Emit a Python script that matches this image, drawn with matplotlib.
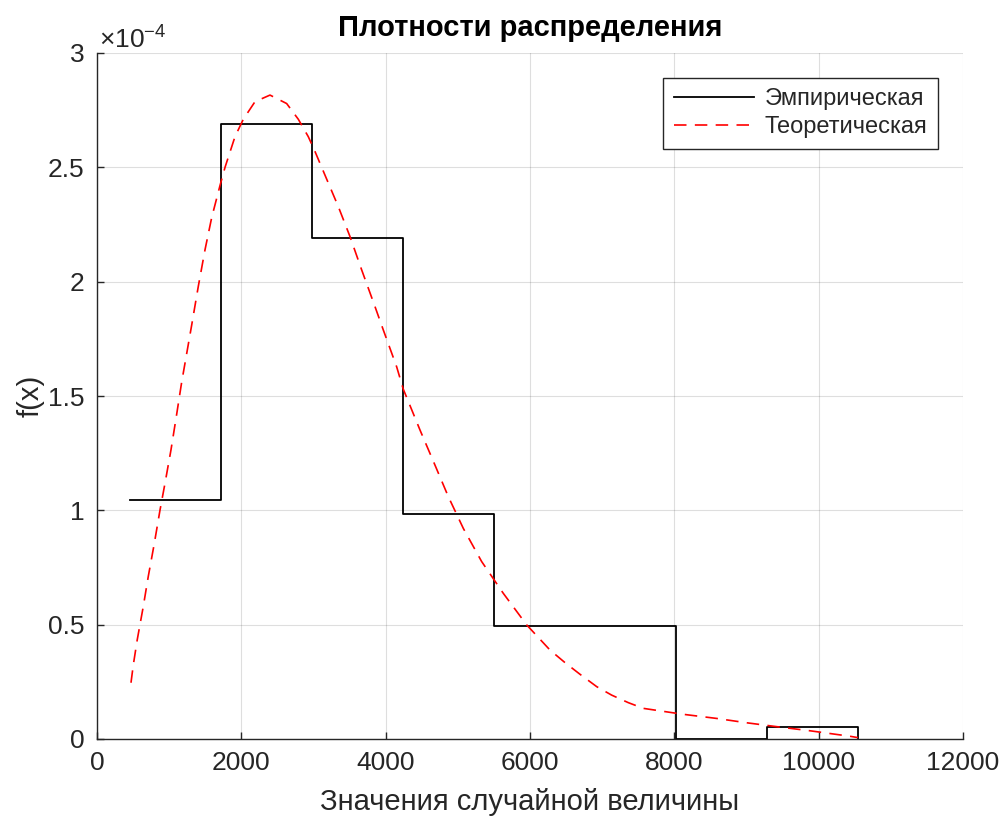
import matplotlib
matplotlib.use("Agg")
from matplotlib import pyplot as plt
import numpy as np

plt.rcParams['font.family'] = ['Liberation Sans', 'DejaVu Sans']
plt.rcParams['mathtext.fontset'] = 'custom'
plt.rcParams['mathtext.rm'] = 'Liberation Sans'
plt.rcParams['lines.scale_dashes'] = False

# histogram edges and heights (heights in units of 1e-4)
bin_edges = [457, 1718, 2979, 4240, 5501, 6762, 8023, 9284, 10545]
emp_heights = [1.045, 2.69, 2.19, 0.983, 0.493, 0.493, 0.0, 0.052]

# theoretical density (x, f(x) in 1e-4)
theo_x = [471, 503, 557, 641, 710, 794, 873, 942, 1025, 1104, 1173, 1312, 1404,
          1497, 1589, 1704, 1774, 1912, 2027, 2189, 2397, 2628, 2790, 2928, 3021,
          3159, 3344, 3506, 3668, 3852, 3967, 4152, 4244, 4476, 4683, 4868, 5076,
          5330, 5630, 5954, 6277, 6485, 6693, 6924, 7131, 7362, 7570, 7824, 8123,
          8585, 9001, 9417, 9879, 10433, 10545]
theo_y = [0.246, 0.324, 0.433, 0.579, 0.710, 0.855, 1.001, 1.118, 1.264, 1.42, 1.56,
          1.81, 1.98, 2.14, 2.28, 2.42, 2.50, 2.634, 2.71, 2.787, 2.816, 2.779, 2.71,
          2.634, 2.569, 2.466, 2.328, 2.197, 2.051, 1.891, 1.789, 1.628, 1.53, 1.351,
          1.198, 1.060, 0.921, 0.776, 0.637, 0.499, 0.389, 0.334, 0.283, 0.229,
          0.192, 0.159, 0.134, 0.122, 0.108, 0.090, 0.071, 0.054, 0.036, 0.012, 0.006]

xticks = [0, 2000, 4000, 6000, 8000, 10000, 12000]
yticks = [0, 0.5, 1, 1.5, 2, 2.5, 3]
ytick_labels = ['0', '0.5', '1', '1.5', '2', '2.5', '3']

txt_color = '#262626'

fig = plt.figure(figsize=(10.05, 8.16), dpi=100)
ax = fig.add_axes([97/1005, 77/816, 866/1005, 686/816])

ax.step(bin_edges, emp_heights + [0.0], where='post', color='black', lw=1.3,
        label='Эмпирическая')
ax.plot(theo_x, theo_y, color='red', lw=1.2, dashes=(9, 6), label='Теоретическая')

ax.set_xlim(0, 12000)
ax.set_ylim(0, 3)
ax.set_xticks(xticks)
ax.set_yticks(yticks)
ax.set_yticklabels(ytick_labels)
ax.grid(True, color='#262626', alpha=0.15, lw=0.8)
ax.set_axisbelow(True)

for s in ['top', 'right']:
    ax.spines[s].set_visible(False)
for s in ['left', 'bottom']:
    ax.spines[s].set_color(txt_color)
    ax.spines[s].set_linewidth(1.0)

ax.tick_params(direction='in', length=5, width=1.0, colors=txt_color,
               labelsize=19, pad=9)

ax.set_title('Плотности распределения', fontsize=21, fontweight='bold',
             color='black', pad=12)
ax.set_xlabel('Значения случайной величины', fontsize=21, color=txt_color, labelpad=9)
ax.set_ylabel('f(x)', fontsize=21, color=txt_color, labelpad=2)

ax.text(0.002, 0.999, r'$\times\mathregular{10^{-4}}$', transform=ax.transAxes,
        fontsize=19, color=txt_color, ha='left', va='bottom')

leg = ax.legend(loc='upper right', fontsize=17, handlelength=3.4,
                borderaxespad=1.05, fancybox=False, framealpha=1,
                edgecolor=txt_color, borderpad=0.45, labelspacing=0.25,
                handletextpad=0.45)
leg.get_frame().set_linewidth(1.0)
for t in leg.get_texts():
    t.set_color(txt_color)

fig.savefig('out.png', dpi=100)
